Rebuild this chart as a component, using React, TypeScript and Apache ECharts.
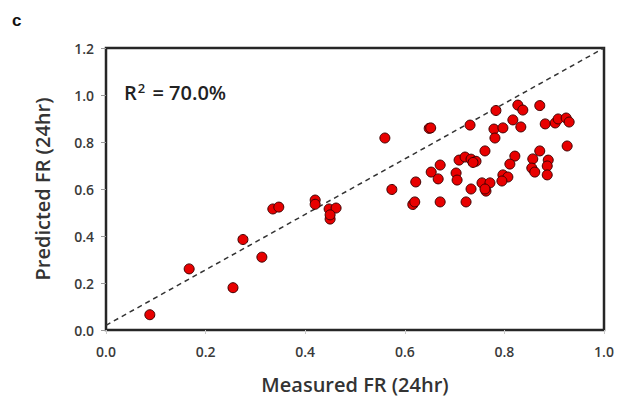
import React, { useEffect, useRef } from "react";
import * as echarts from "echarts";

const measured: number[] = [
  0.088, 0.167, 0.255, 0.275, 0.313, 0.335, 0.347, 0.42, 0.42, 0.448, 0.462, 0.45, 0.45,
  0.56, 0.649, 0.652, 0.731, 0.783, 0.779, 0.781, 0.761, 0.671, 0.653, 0.667, 0.709, 0.721,
  0.733, 0.743, 0.737, 0.703, 0.705, 0.622, 0.574, 0.733, 0.755, 0.771, 0.763, 0.761, 0.616,
  0.62, 0.671, 0.723, 0.827, 0.837, 0.871, 0.817, 0.833, 0.882, 0.902, 0.908, 0.924, 0.93,
  0.797, 0.926, 0.871, 0.821, 0.811, 0.857, 0.855, 0.861, 0.888, 0.886, 0.886, 0.797, 0.807,
  0.795,
];
const predicted: number[] = [
  0.065, 0.26, 0.18, 0.385, 0.31, 0.515, 0.523, 0.553, 0.535, 0.515, 0.519, 0.472, 0.49,
  0.817, 0.858, 0.86, 0.872, 0.934, 0.855, 0.817, 0.762, 0.702, 0.672, 0.643, 0.723, 0.736,
  0.727, 0.718, 0.713, 0.668, 0.638, 0.63, 0.598, 0.6, 0.626, 0.626, 0.591, 0.6, 0.534,
  0.545, 0.545, 0.545, 0.957, 0.936, 0.955, 0.894, 0.864, 0.877, 0.881, 0.898, 0.902, 0.885,
  0.86, 0.783, 0.762, 0.74, 0.706, 0.728, 0.689, 0.672, 0.723, 0.698, 0.66, 0.66, 0.651,
  0.634,
];
const refLineX: number[] = [0, 1];
const refLineY: number[] = [0.02, 1.2];
const xTicks = { min: 0, max: 1, interval: 0.2 };
const yTicks = { min: 0, max: 1.2, interval: 0.2 };
const xTitle = "Measured FR (24hr)";
const yTitle = "Predicted FR (24hr)";
const panelLabel = "c";
const r2Label = "70.0%";

export default function App() {
  const ref = useRef<HTMLDivElement>(null);
  useEffect(() => {
    if (!ref.current) return;
    const chart = echarts.init(ref.current, undefined, { renderer: "svg" });
    const font = "'Open Sans', sans-serif";
    chart.setOption({
      animation: false,
      grid: {
        left: 106,
        right: 13,
        top: 48,
        bottom: 72,
        outerBoundsMode: "none",
        containLabel: false,
        show: true,
        borderColor: "#262626",
        borderWidth: 2.5,
        backgroundColor: "#fff",
      },
      xAxis: {
        type: "value",
        min: xTicks.min,
        max: xTicks.max,
        interval: xTicks.interval,
        splitLine: { show: false },
        axisLine: { show: false },
        axisTick: { show: true, length: 4, lineStyle: { color: "#c8c8c8" } },
        axisLabel: {
          margin: 14,
          fontFamily: font,
          fontSize: 14,
          fontWeight: 600,
          color: "#3a3a3a",
          formatter: (v: number) => v.toFixed(1),
        },
        name: xTitle,
        nameLocation: "middle",
        nameGap: 44,
        nameTextStyle: { fontFamily: font, fontSize: 20, fontWeight: 600, color: "#333" },
      },
      yAxis: {
        type: "value",
        min: yTicks.min,
        max: yTicks.max,
        interval: yTicks.interval,
        splitLine: { show: false },
        axisLine: { show: false },
        axisTick: { show: true, length: 5, lineStyle: { color: "#999" } },
        axisLabel: {
          margin: 12,
          fontFamily: font,
          fontSize: 14,
          fontWeight: 600,
          color: "#3a3a3a",
          formatter: (v: number) => v.toFixed(1),
        },
        name: yTitle,
        nameLocation: "middle",
        nameGap: 54,
        nameTextStyle: { fontFamily: font, fontSize: 20, fontWeight: 600, color: "#333" },
      },
      graphic: [
        {
          type: "text",
          left: 12,
          top: 12,
          style: { text: panelLabel, fontFamily: "Arial, sans-serif", fontSize: 17, fontWeight: "bold", fill: "#111" },
        },
        {
          type: "text",
          left: 124,
          top: 81,
          style: {
            text: "{a|R}{s|2}{a| = " + r2Label + "}",
            rich: {
              a: { fontFamily: font, fontSize: 20, fontWeight: 600, fill: "#222", color: "#222" },
              s: { fontFamily: font, fontSize: 13, fontWeight: 600, fill: "#222", color: "#222", verticalAlign: "top", padding: [0, 2, 9, 1] },
            },
          },
        },
      ],
      series: [
        {
          type: "line",
          data: refLineX.map((x, i) => [x, refLineY[i]]),
          symbol: "none",
          lineStyle: { color: "#333", width: 1.5, type: [5, 4] },
          z: 1,
        },
        {
          type: "scatter",
          data: measured.map((x, i) => [x, predicted[i]]),
          symbolSize: 10,
          itemStyle: { color: "#e80000", borderColor: "#3d0000", borderWidth: 1, opacity: 1 },
          z: 2,
        },
      ],
    });
    return () => chart.dispose();
  }, []);
  return (
    <div
      ref={ref}
      style={{ position: "absolute", left: 0, top: 0, width: 617, height: 402, background: "#fff" }}
    />
  );
}
